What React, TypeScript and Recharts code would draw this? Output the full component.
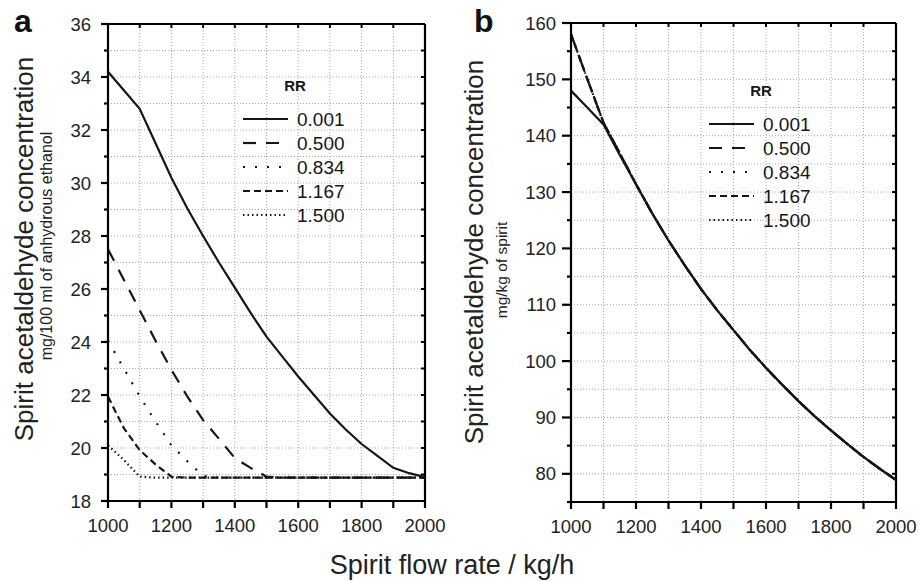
import { LineChart, Line, XAxis, YAxis, CartesianGrid, Legend, ReferenceLine } from 'recharts';

// spirit flow rate, kg/h
const flowRate = [1000, 1050, 1100, 1150, 1200, 1250, 1300, 1350, 1400, 1450, 1500, 1550, 1600, 1650, 1700, 1750, 1800, 1850, 1900, 1950, 2000];
const xTicks = [1000, 1100, 1200, 1300, 1400, 1500, 1600, 1700, 1800, 1900, 2000];

const rrLabels = ['0.001', '0.500', '0.834', '1.167', '1.500'];
const rrKeys = ['rr0', 'rr1', 'rr2', 'rr3', 'rr4'];

// panel a: mg/100 ml of anhydrous ethanol
const ethanolRR0001 = [34.2, 33.5, 32.8, 31.5, 30.2, 29.05, 28.0, 27.0, 26.05, 25.1, 24.2, 23.45, 22.7, 22.0, 21.3, 20.7, 20.15, 19.7, 19.25, 19.05, 18.9];
const ethanolRR0500 = [27.5, 26.35, 25.2, 24.05, 22.95, 21.95, 21.05, 20.35, 19.62, 19.25, 18.92, 18.88, 18.88, 18.88, 18.88, 18.88, 18.88, 18.88, 18.88, 18.88, 18.88];
const ethanolRR0834 = [24.05, 23.0, 21.95, 21.0, 20.1, 19.5, 18.95, 18.88, 18.88, 18.88, 18.88, 18.88, 18.88, 18.88, 18.88, 18.88, 18.88, 18.88, 18.88, 18.88, 18.88];
const ethanolRR1167 = [21.94, 20.75, 19.92, 19.38, 18.92, 18.88, 18.88, 18.88, 18.88, 18.88, 18.88, 18.88, 18.88, 18.88, 18.88, 18.88, 18.88, 18.88, 18.88, 18.88, 18.88];
const ethanolRR1500 = [20.1, 19.55, 18.92, 18.88, 18.88, 18.88, 18.88, 18.88, 18.88, 18.88, 18.88, 18.88, 18.88, 18.88, 18.88, 18.88, 18.88, 18.88, 18.88, 18.88, 18.88];
const ethanolTicks = [18, 19, 20, 21, 22, 23, 24, 25, 26, 27, 28, 29, 30, 31, 32, 33, 34, 35, 36];

// panel b: mg/kg of spirit
const spiritRR0001 = [148.0, 145.0, 142.0, 136.6, 131.4, 126.2, 121.4, 117.0, 112.8, 109.0, 105.5, 102.0, 98.8, 95.8, 92.9, 90.2, 87.7, 85.3, 83.0, 80.9, 78.9];
const spiritRR0500 = [158.0, 150.1, 142.3, 136.9, 131.4, 126.2, 121.4, 117.0, 112.8, 109.0, 105.5, 102.0, 98.8, 95.8, 92.9, 90.2, 87.7, 85.3, 83.0, 80.9, 78.9];
const spiritRR0834 = [158.0, 150.1, 142.3, 136.9, 131.4, 126.2, 121.4, 117.0, 112.8, 109.0, 105.5, 102.0, 98.8, 95.8, 92.9, 90.2, 87.7, 85.3, 83.0, 80.9, 78.9];
const spiritRR1167 = [158.0, 150.1, 142.3, 136.9, 131.4, 126.2, 121.4, 117.0, 112.8, 109.0, 105.5, 102.0, 98.8, 95.8, 92.9, 90.2, 87.7, 85.3, 83.0, 80.9, 78.9];
const spiritRR1500 = [158.0, 150.1, 142.3, 136.9, 131.4, 126.2, 121.4, 117.0, 112.8, 109.0, 105.5, 102.0, 98.8, 95.8, 92.9, 90.2, 87.7, 85.3, 83.0, 80.9, 78.9];
const spiritTicks = [75, 80, 85, 90, 95, 100, 105, 110, 115, 120, 125, 130, 135, 140, 145, 150, 155, 160];

const dashes = ['', '13 10', '2 10', '7 4', '1.5 3'];
const INK = '#161616';
const FRAME = '#000000';
const LABEL = '#222';
const FONT = '"Liberation Sans", Arial, sans-serif';
const TICK_FONT = 18.5;
const CHART_W = 460;
const CHART_H = 581;
const AXIS_W = 2.2;

function buildRows(series: number[][]) {
  return flowRate.map((flow, i) => {
    const row: Record<string, number> = { flow };
    series.forEach((s, k) => (row[rrKeys[k]] = s[i]));
    return row;
  });
}

const ethanolData = buildRows([ethanolRR0001, ethanolRR0500, ethanolRR0834, ethanolRR1167, ethanolRR1500]);
const spiritData = buildRows([spiritRR0001, spiritRR0500, spiritRR0834, spiritRR1167, spiritRR1500]);

function RRLegend() {
  return (
    <svg width={130} height={165} style={{ display: 'block', overflow: 'visible' }}>
      <text x={57} y={21} textAnchor="middle" fontSize={15} fontWeight="bold" fill={INK}>RR</text>
      {rrLabels.map((label, i) => {
        const y = 49 + i * 24;
        return (
          <g key={label}>
            <line x1={5} x2={50} y1={y} y2={y} stroke={INK} strokeWidth={2.2} strokeDasharray={dashes[i] || undefined} />
            <text x={59} y={y + 6.5} fontSize={19} fill={INK}>{label}</text>
          </g>
        );
      })}
    </svg>
  );
}

// bottom tick: outward mark + label, plus the inward mark on the top frame
function BottomTick(props: any) {
  const { x, y, payload, plotH } = props;
  const v = payload.value as number;
  return (
    <g>
      <line x1={x} x2={x} y1={y} y2={y + 7} stroke={FRAME} strokeWidth={AXIS_W} />
      <line x1={x} x2={x} y1={y - plotH} y2={y - plotH + 4} stroke={FRAME} strokeWidth={2} />
      {v % 200 === 0 && (
        <text x={x} y={y + 18} dy="0.71em" textAnchor="middle" fontSize={TICK_FONT} fill={LABEL}>{v}</text>
      )}
    </g>
  );
}

// left tick: long major / short minor mark, label on majors, inward mark on the right frame
function LeftTick(props: any) {
  const { x, y, payload, majorStep, majorLen, gap, plotW } = props;
  const v = payload.value as number;
  const isMajor = v % majorStep === 0;
  return (
    <g>
      <line x1={x} x2={x - (isMajor ? majorLen : 4)} y1={y} y2={y} stroke={FRAME} strokeWidth={AXIS_W} />
      <line x1={x + plotW} x2={x + plotW - 4} y1={y} y2={y} stroke={FRAME} strokeWidth={2} />
      {isMajor && (
        <text x={x - majorLen - gap} y={y} dy="0.36em" textAnchor="end" fontSize={TICK_FONT} fill={LABEL}>{v}</text>
      )}
    </g>
  );
}

type PanelProps = {
  data: Record<string, number>[];
  yDomain: [number, number];
  yTicks: number[];
  majorStep: number;
  majorLen: number;
  gap: number;
  yAxisWidth: number;
  xAxisHeight: number;
  margin: { top: number; right: number; bottom: number; left: number };
  legendAt: { left: number; top: number };
  left: number;
};

function Panel({ data, yDomain, yTicks, majorStep, majorLen, gap, yAxisWidth, xAxisHeight, margin, legendAt, left }: PanelProps) {
  const plotW = CHART_W - margin.left - margin.right - yAxisWidth;
  const plotH = CHART_H - margin.top - margin.bottom - xAxisHeight;
  return (
    <div style={{ position: 'absolute', left, top: 0 }}>
      <LineChart width={CHART_W} height={CHART_H} data={data} margin={margin}>
        <CartesianGrid stroke="#a8a8a8" strokeDasharray="1 2" />
        <XAxis
          dataKey="flow"
          type="number"
          domain={[1000, 2000]}
          ticks={xTicks}
          interval={0}
          height={xAxisHeight}
          tickSize={0}
          tickMargin={0}
          tickLine={false}
          axisLine={{ stroke: FRAME, strokeWidth: AXIS_W }}
          tick={(p: any) => <BottomTick {...p} plotH={plotH} />}
        />
        <YAxis
          type="number"
          domain={yDomain}
          ticks={yTicks}
          interval={0}
          width={yAxisWidth}
          tickSize={0}
          tickMargin={0}
          tickLine={false}
          axisLine={{ stroke: FRAME, strokeWidth: AXIS_W }}
          tick={(p: any) => <LeftTick {...p} majorStep={majorStep} majorLen={majorLen} gap={gap} plotW={plotW} />}
        />
        <ReferenceLine x={2000} stroke={FRAME} strokeWidth={AXIS_W} ifOverflow="visible" />
        <ReferenceLine y={yDomain[1]} stroke={FRAME} strokeWidth={AXIS_W} ifOverflow="visible" />
        <Legend
          layout="horizontal"
          verticalAlign="middle"
          align="center"
          wrapperStyle={{ position: 'absolute', left: legendAt.left, top: legendAt.top, width: 130, height: 165 }}
          content={() => <RRLegend />}
        />
        {rrKeys.map((key, i) => (
          <Line
            key={key}
            dataKey={key}
            type="linear"
            stroke={INK}
            strokeWidth={2.2}
            strokeDasharray={dashes[i] || undefined}
            dot={false}
            activeDot={false}
            isAnimationActive={false}
          />
        ))}
      </LineChart>
    </div>
  );
}

export default function App() {
  return (
    <div style={{ position: 'absolute', left: 0, top: 0, width: 920, height: 581, background: '#fff', fontFamily: FONT }}>
      <Panel
        left={0}
        data={ethanolData}
        yDomain={[18, 36]}
        yTicks={ethanolTicks}
        majorStep={2}
        majorLen={7}
        gap={10}
        yAxisWidth={108}
        xAxisHeight={50}
        margin={{ top: 24, right: 35, bottom: 30, left: 0 }}
        legendAt={{ left: 238, top: 70 }}
      />
      <Panel
        left={460}
        data={spiritData}
        yDomain={[75, 160]}
        yTicks={spiritTicks}
        majorStep={10}
        majorLen={9}
        gap={6}
        yAxisWidth={111}
        xAxisHeight={50}
        margin={{ top: 23, right: 24, bottom: 29, left: 0 }}
        legendAt={{ left: 244, top: 75 }}
      />
      <svg width={920} height={581} style={{ position: 'absolute', left: 0, top: 0, pointerEvents: 'none' }}>
        <text x={14} y={32} fontSize={32} fontWeight="bold" fill="#111">a</text>
        <text x={474} y={32} fontSize={32} fontWeight="bold" fill="#111">b</text>
        <text transform="translate(33,249) rotate(-90)" textAnchor="middle" fontSize={26} fill={LABEL}>Spirit acetaldehyde concentration</text>
        <text transform="translate(52,246) rotate(-90)" textAnchor="middle" fontSize={16} fill={LABEL}>mg/100 ml of anhydrous ethanol</text>
        <text transform="translate(483,252) rotate(-90)" textAnchor="middle" fontSize={26} fill={LABEL}>Spirit acetaldehyde concentration</text>
        <text transform="translate(507,270) rotate(-90)" textAnchor="middle" fontSize={15.5} fill={LABEL}>mg/kg of spirit</text>
        <text x={452} y={574} textAnchor="middle" fontSize={27} fill={LABEL}>Spirit flow rate / kg/h</text>
      </svg>
    </div>
  );
}
